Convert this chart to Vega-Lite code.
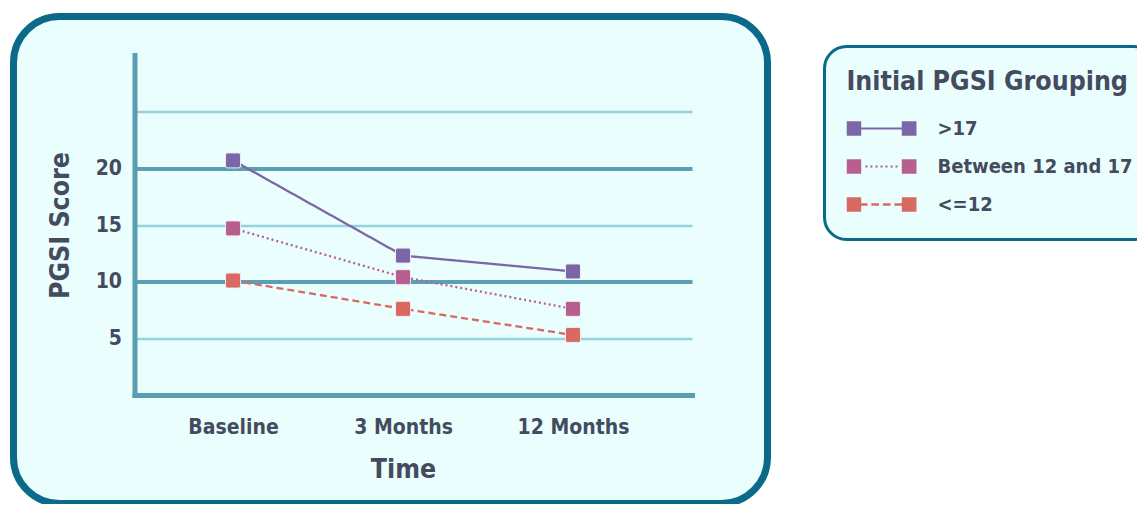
{
  "$schema": "https://vega.github.io/schema/vega-lite/v6.json",
  "width": 754,
  "height": 487,
  "padding": {"left": 13.5, "top": 16.5, "right": 0, "bottom": 0},
  "background": "#ffffff",
  "config": {
    "view": {"fill": "#eafefe", "stroke": "#0b6a8a", "strokeWidth": 7, "cornerRadius": 46},
    "font": "'DejaVu Sans Condensed', 'Roboto Condensed', 'Liberation Sans Narrow', Roboto, sans-serif"
  },
  "data": {
    "values": [
      {"time": "Baseline", "group": ">17", "score": 20.7},
      {"time": "3 Months", "group": ">17", "score": 12.3},
      {"time": "12 Months", "group": ">17", "score": 10.9},
      {"time": "Baseline", "group": "Between 12 and 17", "score": 14.7},
      {"time": "3 Months", "group": "Between 12 and 17", "score": 10.4},
      {"time": "12 Months", "group": "Between 12 and 17", "score": 7.6},
      {"time": "Baseline", "group": "<=12", "score": 10.1},
      {"time": "3 Months", "group": "<=12", "score": 7.6},
      {"time": "12 Months", "group": "<=12", "score": 5.3}
    ]
  },
  "encoding": {
    "x": {
      "field": "time",
      "type": "ordinal",
      "sort": ["Baseline", "3 Months", "12 Months"],
      "scale": {"type": "point", "range": [121, 678.5], "padding": 0.64, "align": 0.453},
      "axis": {
        "title": "Time",
        "titleX": 389.5,
        "labelAngle": 0,
        "offset": -108.5,
        "ticks": false,
        "grid": false,
        "labelPadding": 21,
        "labelFontSize": 21,
        "labelFontWeight": "bold",
        "labelColor": "#454b5f",
        "titleFontSize": 26.5,
        "titleFontWeight": "bold",
        "titleColor": "#454b5f",
        "titlePadding": 19,
        "domainColor": "#5a9db3",
        "domainWidth": 5,
        "domainCap": "square"
      }
    },
    "y": {
      "field": "score",
      "type": "quantitative",
      "scale": {"domain": [0, 30], "range": [378.5, 38.5], "nice": false, "zero": true},
      "axis": {
        "title": "PGSI Score",
        "values": [5, 10, 15, 20, 25],
        "labelExpr": "datum.value == 25 ? '' : datum.label",
        "offset": -121,
        "ticks": false,
        "labelPadding": 13,
        "labelFontSize": 21,
        "labelFontWeight": "bold",
        "labelColor": "#454b5f",
        "titleFontSize": 26.5,
        "titleFontWeight": "bold",
        "titleColor": "#454b5f",
        "titlePadding": 21,
        "domainColor": "#5a9db3",
        "domainWidth": 5,
        "domainCap": "square",
        "grid": true,
        "gridColor": {"condition": {"test": "datum.value % 10 === 0", "value": "#5a9fb5"}, "value": "#96d3dd"},
        "gridWidth": {"condition": {"test": "datum.value % 10 === 0", "value": 4}, "value": 2.5}
      }
    },
    "color": {
      "field": "group",
      "type": "nominal",
      "scale": {
        "domain": [">17", "Between 12 and 17", "<=12"],
        "range": ["#7b67a8", "#b85f90", "#d96a61"]
      }
    }
  },
  "layer": [
    {
      "mark": {"type": "line", "strokeWidth": 2.3},
      "encoding": {
        "color": {
          "field": "group",
          "type": "nominal",
          "scale": {
            "domain": [">17", "Between 12 and 17", "<=12"],
            "range": ["#7b67a8", "#b85f90", "#d96a61"]
          },
          "legend": {
            "title": "Initial PGSI Grouping",
            "orient": "none",
            "legendX": 811,
            "legendY": 30,
            "padding": 22,
            "strokeColor": "#0b6a8a",
            "fillColor": "#eafefe",
            "cornerRadius": 22,
            "titleFontSize": 26.5,
            "titleFontWeight": "bold",
            "titleColor": "#454b5f",
            "titlePadding": 21,
            "titleLimit": 0,
            "labelFontSize": 20,
            "labelFontWeight": "bold",
            "labelColor": "#454b5f",
            "labelOffset": 21,
            "labelLimit": 0,
            "clipHeight": 25,
            "symbolType": "M-1,-0.21L-0.58,-0.21L-0.58,0.21L-1,0.21Z",
            "symbolSize": 4900,
            "symbolStrokeWidth": 0,
            "rowPadding": 13,
            "encode": {
              "symbols": {
                "update": {
                  "fill": {"scale": "color", "field": "value"},
                  "strokeWidth": {"value": 0},
                  "shape": {"signal": "datum.value == '>17' ? 'M-1,-0.21L-0.58,-0.21L-0.58,0.21L-1,0.21Z M0.58,-0.21L1,-0.21L1,0.21L0.58,0.21Z M-0.58,-0.03L0.58,-0.03L0.58,0.03L-0.58,0.03Z' : datum.value == '<=12' ? 'M-1,-0.21L-0.58,-0.21L-0.58,0.21L-1,0.21Z M0.58,-0.21L1,-0.21L1,0.21L0.58,0.21Z M-0.58,-0.035L-0.4,-0.035L-0.4,0.035L-0.58,0.035Z M-0.29,-0.035L-0.07,-0.035L-0.07,0.035L-0.29,0.035Z M0.04,-0.035L0.26,-0.035L0.26,0.035L0.04,0.035Z M0.37,-0.035L0.58,-0.035L0.58,0.035L0.37,0.035Z' : 'M-1,-0.21L-0.58,-0.21L-0.58,0.21L-1,0.21Z M0.58,-0.21L1,-0.21L1,0.21L0.58,0.21Z M-0.46,-0.03L-0.4,-0.03L-0.4,0.03L-0.46,0.03Z M-0.32,-0.03L-0.26,-0.03L-0.26,0.03L-0.32,0.03Z M-0.17,-0.03L-0.11,-0.03L-0.11,0.03L-0.17,0.03Z M-0.03,-0.03L0.03,-0.03L0.03,0.03L-0.03,0.03Z M0.11,-0.03L0.17,-0.03L0.17,0.03L0.11,0.03Z M0.26,-0.03L0.32,-0.03L0.32,0.03L0.26,0.03Z M0.4,-0.03L0.46,-0.03L0.46,0.03L0.4,0.03Z'"}
                }
              },
              "legend": {"update": {"strokeWidth": {"value": 3}}}
            }
          }
        },
        "strokeDash": {
          "field": "group",
          "type": "nominal",
          "scale": {
            "domain": [">17", "Between 12 and 17", "<=12"],
            "range": [[1, 0], [2, 3], [7, 4]]
          }
        }
      }
    },
    {
      "mark": {
        "type": "point",
        "shape": "M-0.75,-1L0.75,-1Q1,-1 1,-0.75L1,0.75Q1,1 0.75,1L-0.75,1Q-1,1 -1,0.75L-1,-0.75Q-1,-1 -0.75,-1Z",
        "size": 225,
        "filled": true,
        "opacity": 1,
        "stroke": "#f3eaf3",
        "strokeWidth": 1
      },
      "encoding": {
        "color": {
          "field": "group",
          "type": "nominal",
          "scale": {
            "domain": [">17", "Between 12 and 17", "<=12"],
            "range": ["#7b67a8", "#b85f90", "#d96a61"]
          },
          "legend": null
        }
      }
    }
  ]
}
